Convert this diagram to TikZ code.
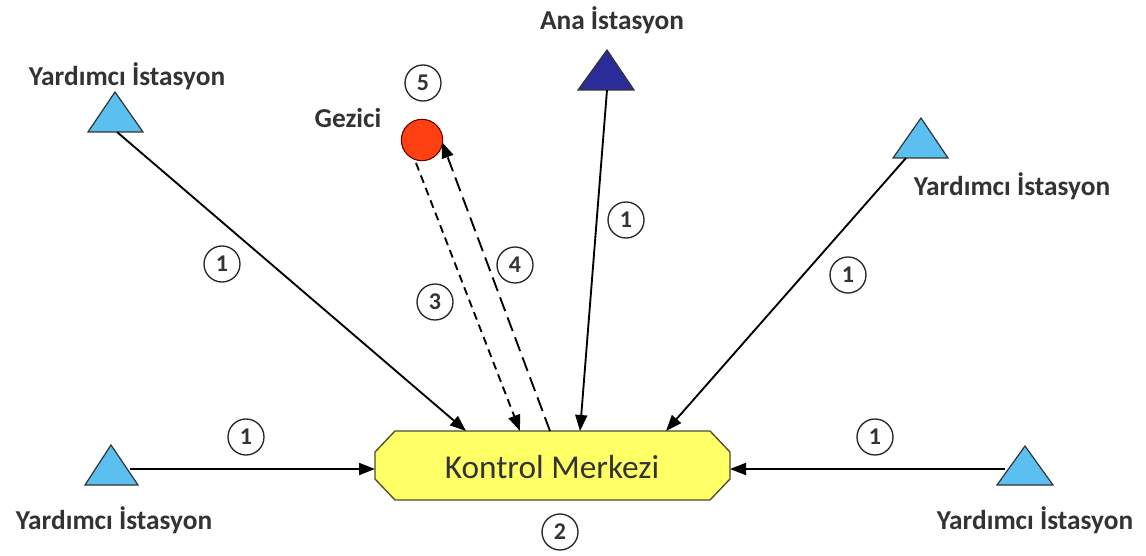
\documentclass[tikz,border=0pt]{standalone}
\usepackage{fontspec}
\setmainfont{Carlito}
\usetikzlibrary{arrows.meta}
\definecolor{lblue}{HTML}{5BC0F0}
\definecolor{dblue}{HTML}{2B2B9A}
\definecolor{kyellow}{HTML}{FFFF66}
\definecolor{gred}{HTML}{FF4010}
\definecolor{txt}{HTML}{333333}
\tikzset{
  every node/.style={text=txt},
  tri/.style={draw=black!80, line width=0.9pt},
  lbl/.style={font=\bfseries\fontsize{20.5}{22}\selectfont, inner sep=0pt},
  num/.style={circle, draw=black!85, line width=1pt, minimum size=27pt, inner sep=0pt, font=\bfseries\fontsize{18}{20}\selectfont},
  conn/.style={line width=1.4pt, -{Triangle[length=12pt,width=9pt]}},
  shortdash/.style={conn, dash pattern=on 6pt off 4pt},
  longdash/.style={conn, dash pattern=on 11pt off 5pt},
}
\begin{document}
\begin{tikzpicture}[x=0.75pt,y=-0.75pt]
\useasboundingbox (0,0) rectangle (1146,556);
% Kontrol Merkezi
\draw[fill=kyellow, draw=black!60!olive, line width=1pt]
  (395,431) -- (710,431) -- (730,452) -- (730,479) -- (710,500) -- (395,500) -- (375,479) -- (375,452) -- cycle;
\node[font=\fontsize{25}{28}\selectfont, inner sep=0pt] (km) at (552,467) {Kontrol Merkezi};
\coordinate (kmL) at (375,469);
\coordinate (kmR) at (730,469);
\coordinate (kmT1) at (466,431);
\coordinate (kmT3) at (520,431);
\coordinate (kmT4) at (550,431);
\coordinate (kmTA) at (580,431);
\coordinate (kmT2) at (666,431);
\node[num] (n2) at (560,532) {2};

% triangles
\draw[tri, fill=lblue] (88,132) -- (115,92) -- (143,132) -- cycle;
\coordinate (tl) at (117,132);
\node[lbl] (ltl) at (127,76) {Yardımcı İstasyon};

\draw[tri, fill=dblue] (578,90) -- (607,50) -- (634,90) -- cycle;
\coordinate (ta) at (607,90);
\node[lbl] (lta) at (612,20) {Ana İstasyon};

\draw[tri, fill=lblue] (893,158) -- (921,118) -- (948,158) -- cycle;
\coordinate (tr) at (906,158);
\node[lbl] (ltr) at (1012,186) {Yardımcı İstasyon};

\draw[tri, fill=lblue] (85,485) -- (111,445) -- (138,485) -- cycle;
\coordinate (bl) at (130,469);
\node[lbl] (lbl1) at (114,520) {Yardımcı İstasyon};

\draw[tri, fill=lblue] (997,485) -- (1025,446) -- (1053,485) -- cycle;
\coordinate (br) at (1005,469);
\node[lbl] (lbr) at (1035,520) {Yardımcı İstasyon};

% Gezici
\node[circle, fill=gred, draw=black!60!red, line width=0.8pt, minimum size=31pt, inner sep=0pt] (gz) at (422,140) {};
\node[lbl] (lgz) at (348,118) {Gezici};
\node[num] (n5) at (423,83) {5};
\coordinate (gzA) at (416,163);
\coordinate (gzB) at (442,142);

% connectors
\draw[conn] (tl) -- (kmT1);
\draw[conn] (ta) -- (kmTA);
\draw[conn] (tr) -- (kmT2);
\draw[conn] (bl) -- (kmL);
\draw[conn] (br) -- (kmR);
\draw[shortdash] (gzA) -- (kmT3);
\draw[longdash] (kmT4) -- (gzB);

% numbers
\node[num] (a1) at (222,264) {1};
\node[num] (a2) at (626,220) {1};
\node[num] (a3) at (848,275) {1};
\node[num] (a4) at (246,437) {1};
\node[num] (a5) at (875,437) {1};
\node[num] (a6) at (435,302) {3};
\node[num] (a7) at (515,265) {4};
\end{tikzpicture}
\end{document}
